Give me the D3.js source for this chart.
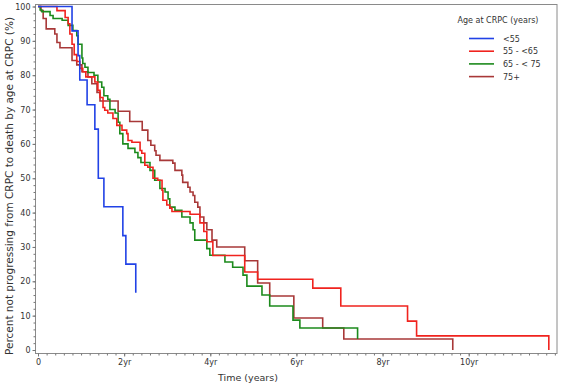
<!DOCTYPE html>
<html>
<head>
<meta charset="utf-8">
<script src="https://cdn.jsdelivr.net/npm/d3@7"></script>
<style>
  html, body { margin: 0; padding: 0; background: #fff; }
  svg text { font-family: "DejaVu Sans", Verdana, sans-serif; fill: #333; }
</style>
</head>
<body>
<svg id="chart" width="561" height="386"></svg>
<script>
;(function (window, document, undefined) {

  'use strict';

  // Kaplan-Meier steps: [time in years, percent after the step]
  var groups = ['<55', '55 - <65', '65 - < 75', '75+'];
  var colors = ['#2142e6', '#f0231e', '#1c8a1c', '#a83838'];

  var under55 = [
    [0, 100], [0.79, 92.9], [0.93, 85.7], [0.97, 78.6], [1.14, 71.4], [1.32, 64.3],
    [1.40, 50], [1.53, 41.7], [1.97, 33.3], [2.04, 25], [2.27, 16.7]
  ];

  var age55to65 = [
    [0, 100], [0.44, 98.8], [0.63, 96.8], [0.70, 95], [0.74, 92], [0.79, 89], [0.84, 86],
    [0.90, 84], [0.97, 82], [1.04, 81], [1.11, 79.5], [1.32, 78], [1.39, 75.6], [1.44, 73.5],
    [1.51, 70.6], [1.55, 69.8], [1.62, 69], [1.74, 67.4], [1.83, 65.4], [1.95, 64], [2.06, 63],
    [2.09, 61], [2.18, 60.5], [2.37, 58.1], [2.41, 57.3], [2.48, 53.8], [2.55, 53.2], [2.67, 50],
    [2.78, 49.4], [2.88, 46.5], [2.90, 43.6], [2.99, 42.2], [3.06, 41.3], [3.11, 40.3],
    [3.53, 39.5], [3.76, 37], [3.85, 34.5], [3.92, 31.5], [4.06, 27.5], [4.80, 22.7],
    [5.10, 20.6], [6.38, 18], [7.03, 12.8], [8.58, 8.4], [8.79, 4.1], [11.86, 0]
  ];

  var age65to75 = [
    [0, 100], [0.05, 99], [0.09, 98.5], [0.28, 97.4], [0.35, 96.5], [0.56, 96], [0.70, 94.5],
    [0.81, 93], [0.90, 91.5], [0.93, 89], [1.02, 85], [1.04, 83.4], [1.09, 82.3], [1.16, 80.8],
    [1.30, 80], [1.39, 78], [1.48, 76.5], [1.53, 74], [1.62, 73], [1.67, 70], [1.79, 69],
    [1.86, 66.3], [1.90, 63], [1.97, 60], [2.09, 58.7], [2.25, 57.5], [2.32, 56], [2.39, 54.6],
    [2.60, 52.3], [2.71, 49.4], [2.83, 47], [2.95, 46], [3.02, 44], [3.06, 41.6], [3.18, 40.7],
    [3.34, 38.7], [3.53, 37], [3.60, 35], [3.64, 32], [3.92, 29.5], [3.99, 27.6], [4.34, 25.6],
    [4.52, 24.1], [4.76, 21.8], [4.85, 18.6], [5.20, 16], [5.38, 12.8], [5.92, 8.7],
    [6.08, 6.4], [7.42, 3.2]
  ];

  var age75plus = [
    [0, 100], [0.07, 98.8], [0.12, 96.5], [0.19, 93.5], [0.39, 92], [0.44, 89.5], [0.51, 88],
    [0.79, 84.3], [0.90, 83], [1.02, 81], [1.16, 79.5], [1.25, 77.5], [1.37, 75], [1.44, 72.5],
    [1.86, 69.5], [2.13, 66.5], [2.42, 64], [2.55, 61], [2.62, 59.6], [2.71, 58], [2.74, 56.7],
    [2.83, 55.2], [3.13, 54.4], [3.18, 52.3], [3.34, 50.9], [3.36, 48.8], [3.48, 47.4],
    [3.53, 46], [3.60, 45], [3.64, 43], [3.71, 41.6], [3.76, 38.7], [3.85, 37], [3.92, 35],
    [4.04, 32], [4.15, 30], [4.80, 26], [5.10, 19.5], [5.38, 15.7], [5.94, 9.3], [6.61, 6.4],
    [7.10, 3.2], [9.63, 0]
  ];

  var xMajorTicks = [0, 2, 4, 6, 8, 10];
  var xTickLabels = ['0', '2yr', '4yr', '6yr', '8yr', '10yr'];
  var yMajorTicks = [0, 10, 20, 30, 40, 50, 60, 70, 80, 90, 100];

  var series = [under55, age55to65, age65to75, age75plus];

  var svg = d3.select('#chart');

  var frame = { left: 35.5, right: 557, top: 4.5, bottom: 353.5 };

  var x = d3.scaleLinear().domain([0, 12.05]).range([38, 557]);
  var y = d3.scaleLinear().domain([0, 100]).range([350, 6.5]);

  // plot frame
  svg.append('rect')
    .attr('x', frame.left)
    .attr('y', frame.top)
    .attr('width', frame.right - frame.left)
    .attr('height', frame.bottom - frame.top)
    .attr('fill', 'none')
    .attr('stroke', '#8a8a8a')
    .attr('stroke-width', 1);

  // y axis
  var yAxis = d3.axisLeft(y)
    .tickValues(yMajorTicks)
    .tickSize(3)
    .tickPadding(2)
    .tickFormat(d3.format('d'));

  var gy = svg.append('g')
    .attr('transform', 'translate(' + frame.left + ',0)')
    .call(yAxis);
  gy.select('.domain').remove();

  svg.append('g')
    .attr('transform', 'translate(' + frame.left + ',0)')
    .call(d3.axisLeft(y).tickValues(d3.range(0, 101, 2)).tickSize(2).tickFormat(''))
    .select('.domain').remove();

  // x axis
  var xAxis = d3.axisBottom(x)
    .tickValues(xMajorTicks)
    .tickSize(3)
    .tickPadding(3)
    .tickFormat(function (d, i) { return xTickLabels[i]; });

  var gx = svg.append('g')
    .attr('transform', 'translate(0,' + frame.bottom + ')')
    .call(xAxis);
  gx.select('.domain').remove();

  svg.append('g')
    .attr('transform', 'translate(0,' + frame.bottom + ')')
    .call(d3.axisBottom(x).tickValues(d3.range(0, 12.01, 0.2)).tickSize(2).tickFormat(''))
    .select('.domain').remove();

  svg.selectAll('.tick line').attr('stroke', '#777');
  svg.selectAll('.tick text')
    .style('font-size', '8px')
    .attr('fill', '#444');

  // axis titles
  svg.append('text')
    .attr('x', 248)
    .attr('y', 381)
    .attr('text-anchor', 'middle')
    .style('font-size', '9.5px')
    .text('Time (years)');

  svg.append('text')
    .attr('transform', 'translate(13,186) rotate(-90)')
    .attr('text-anchor', 'middle')
    .style('font-size', '10.5px')
    .text('Percent not progressing from CRPC to death by age at CRPC (%)');

  // curves
  var line = d3.line()
    .curve(d3.curveStepAfter)
    .x(function (d) { return x(d[0]); })
    .y(function (d) { return y(d[1]); });

  // draw 75+ first so the others sit on top, like the reference
  [3, 2, 1, 0].forEach(function (i) {
    svg.append('path')
      .datum(series[i])
      .attr('d', line)
      .attr('fill', 'none')
      .attr('stroke', colors[i])
      .attr('stroke-width', 1.6);
  });

  // legend
  var legend = svg.append('g');

  legend.append('text')
    .attr('x', 498)
    .attr('y', 23)
    .attr('text-anchor', 'middle')
    .style('font-size', '8px')
    .text('Age at CRPC (years)');

  var items = legend.selectAll('.item')
    .data(groups)
    .enter().append('g')
    .attr('class', 'item')
    .attr('transform', function (d, i) { return 'translate(0,' + (38.5 + i * 12.7) + ')'; });

  items.append('line')
    .attr('x1', 469)
    .attr('x2', 494)
    .attr('stroke', function (d, i) { return colors[i]; })
    .attr('stroke-width', 1.6);

  items.append('text')
    .attr('x', 503)
    .attr('y', 3)
    .style('font-size', '8px')
    .text(function (d) { return d; });

})(window, document);
</script>
</body>
</html>
